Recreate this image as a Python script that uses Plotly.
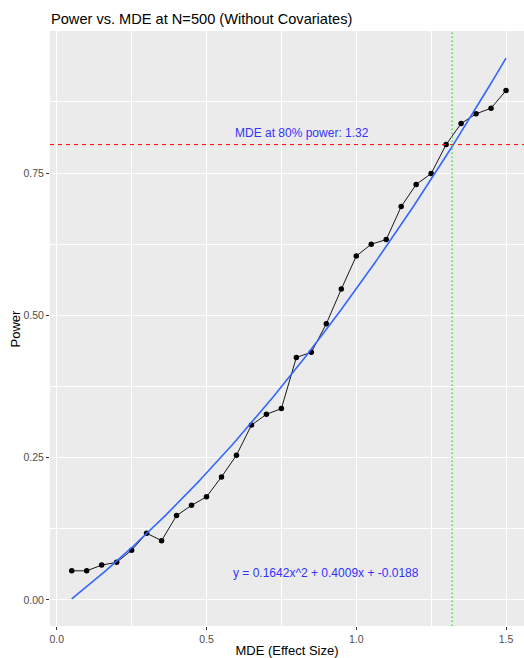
import numpy as np
import plotly.graph_objects as go

# Data
mde = [0.05, 0.10, 0.15, 0.20, 0.25, 0.30, 0.35, 0.40, 0.45, 0.50,
       0.55, 0.60, 0.65, 0.70, 0.75, 0.80, 0.85, 0.90, 0.95, 1.00,
       1.05, 1.10, 1.15, 1.20, 1.25, 1.30, 1.35, 1.40, 1.45, 1.50]
power = [0.051, 0.051, 0.061, 0.066, 0.087, 0.117, 0.104, 0.148, 0.166, 0.181,
         0.216, 0.254, 0.307, 0.326, 0.336, 0.426, 0.435, 0.485, 0.546, 0.604,
         0.625, 0.633, 0.691, 0.730, 0.749, 0.800, 0.837, 0.854, 0.864, 0.895]
fit_coefs = [0.1642, 0.4009, -0.0188]  # quadratic fit: a*x^2 + b*x + c
target_power = 0.8
mde_at_target = 1.32
x_ticks = [0.0, 0.5, 1.0, 1.5]
y_ticks = [0.0, 0.25, 0.5, 0.75]

fx = np.linspace(min(mde), max(mde), 200)
fy = np.polyval(fit_coefs, fx)

FONT = "Liberation Sans, Arial, sans-serif"

fig = go.Figure()
fig.add_trace(go.Scatter(x=mde, y=power, mode="lines+markers",
                         line=dict(color="black", width=0.9),
                         marker=dict(color="black", size=5.5),
                         showlegend=False, hoverinfo="skip"))
fig.add_trace(go.Scatter(x=fx, y=fy, mode="lines",
                         line=dict(color="#3366FF", width=1.6),
                         showlegend=False, hoverinfo="skip"))

fig.add_shape(type="line", xref="paper", x0=0, x1=1, yref="y",
              y0=target_power, y1=target_power,
              line=dict(color="red", width=1, dash="4px,4px"), layer="above")
fig.add_shape(type="line", yref="paper", y0=0, y1=1, xref="x",
              x0=mde_at_target, x1=mde_at_target,
              line=dict(color="#33DD33", width=1.3, dash="1.5px,2.5px"), layer="above")

fig.add_annotation(x=mde_at_target - 0.5, y=target_power + 0.02,
                   text=f"MDE at 80% power: {mde_at_target:.2f}",
                   showarrow=False, font=dict(family=FONT, size=12, color="#3333FF"),
                   xanchor="center", yanchor="middle")
fig.add_annotation(x=0.9, y=0.047,
                   text=f"y = {fit_coefs[0]:.4f}x^2 + {fit_coefs[1]:.4f}x + {fit_coefs[2]:.4f}",
                   showarrow=False, font=dict(family=FONT, size=12, color="#3333FF"),
                   xanchor="center", yanchor="middle")
# y-axis title
fig.add_annotation(xref="paper", yref="paper", x=-35 / 474, y=0.5,
                   text="Power", textangle=-90, showarrow=False,
                   font=dict(family=FONT, size=13, color="black"),
                   xanchor="center", yanchor="middle")

fig.update_layout(
    width=524, height=658,
    margin=dict(l=50, r=0, t=31, b=32),
    paper_bgcolor="white", plot_bgcolor="#EBEBEB",
    font=dict(family=FONT, color="black"),
    title=dict(text="Power vs. MDE at N=500 (Without Covariates)",
               x=51 / 524, xref="container", xanchor="left",
               y=1 - 18.5 / 658, yref="container", yanchor="middle",
               pad=dict(l=0, r=0, t=0, b=0),
               font=dict(family=FONT, size=14.6, color="black")),
)
fig.update_xaxes(range=[-0.0225, 1.5600], tickvals=x_ticks, tickformat=".1f",
                 showgrid=True, gridcolor="white", gridwidth=1.1,
                 minor=dict(dtick=0.25, tick0=0, showgrid=True, gridcolor="white", gridwidth=0.5),
                 zeroline=False, showline=False,
                 ticks="outside", ticklen=3, tickcolor="#333333", tickwidth=1,
                 tickfont=dict(family=FONT, size=10.5, color="#4D4D4D"),
                 title=dict(text="MDE (Effect Size)", font=dict(family=FONT, size=13, color="black"), standoff=4))
fig.update_yaxes(range=[-0.046, 0.9996], tickvals=y_ticks, tickformat=".2f",
                 showgrid=True, gridcolor="white", gridwidth=1.1,
                 minor=dict(dtick=0.125, tick0=0, showgrid=True, gridcolor="white", gridwidth=0.5),
                 zeroline=False, showline=False,
                 ticks="outside", ticklen=3, tickcolor="#333333", tickwidth=1,
                 tickfont=dict(family=FONT, size=10.5, color="#4D4D4D"))

fig.write_html("out.html")
